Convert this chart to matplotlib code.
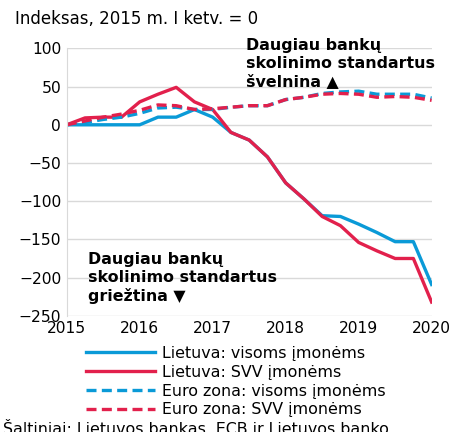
import matplotlib
matplotlib.use("Agg")
import matplotlib.pyplot as plt
import numpy as np

years = np.arange(21) * 0.25 + 2015
lt_all = [0, 0, 0, 0, 0, 10, 10, 20, 10, -10, -20, -42, -76, -97, -119, -120, -130, -141, -153, -153, -209]
lt_svv = [0, 9, 10, 10, 30, 40, 49, 30, 20, -10, -20, -42, -76, -97, -120, -132, -154, -165, -175, -175, -232]
ez_all = [0, 3, 7, 10, 15, 22, 23, 20, 20, 23, 25, 25, 33, 36, 41, 43, 44, 40, 40, 40, 35]
ez_svv = [0, 5, 10, 14, 19, 26, 25, 20, 21, 23, 25, 25, 33, 36, 40, 41, 40, 36, 37, 36, 32]
labels = ["Lietuva: visoms įmonėms", "Lietuva: SVV įmonėms",
          "Euro zona: visoms įmonėms", "Euro zona: SVV įmonėms"]
xticks = [2015, 2016, 2017, 2018, 2019, 2020]
yticks = [-250, -200, -150, -100, -50, 0, 50, 100]

blue = "#0a9ad7"
red = "#e2204c"
fs = 11.4
tfs = 11.2

fig = plt.figure(figsize=(4.51, 4.32), dpi=100)
ax = fig.add_axes([0.148, 0.269, 0.809, 0.619])
lw = 2.4
l1, = ax.plot(years, lt_all, color=blue, lw=lw, label=labels[0])
l2, = ax.plot(years, lt_svv, color=red, lw=lw, label=labels[1])
l3, = ax.plot(years, ez_all, color=blue, lw=lw, ls=(0, (3, 1.6)), label=labels[2])
l4, = ax.plot(years, ez_svv, color=red, lw=lw, ls=(0, (3, 1.6)), label=labels[3])

ax.set_xlim(2015, 2020)
ax.set_ylim(-250, 100)
ax.set_xticks(xticks)
ax.set_xticklabels([str(x) for x in xticks], fontsize=tfs)
ax.set_yticks(yticks)
ax.set_yticklabels([str(y).replace("-", "\u2212") for y in yticks], fontsize=tfs)
ax.tick_params(length=0, pad=4)
ax.yaxis.grid(True, color="#d9d9d9", lw=1)
ax.set_axisbelow(True)
for s in ["top", "right", "bottom"]:
    ax.spines[s].set_visible(False)
ax.spines["left"].set_color("#d9d9d9")

fig.text(0.033, 0.955, "Indeksas, 2015 m. I ketv. = 0", fontsize=12, va="center", ha="left")
ax.text(0.49, 1.04, "Daugiau bankų\nskolinimo standartus\nšvelnina \u25B2", transform=ax.transAxes,
        fontsize=fs, fontweight="bold", va="top", ha="left", linespacing=1.25)
ax.text(0.058, 0.24, "Daugiau bankų\nskolinimo standartus\ngriežtina \u25BC", transform=ax.transAxes,
        fontsize=fs, fontweight="bold", va="top", ha="left", linespacing=1.25)

fig.legend(handles=[l1, l2, l3, l4], loc="upper left", bbox_to_anchor=(0.19, 0.2),
           frameon=False, fontsize=fs, handlelength=4.4, handletextpad=0.45,
           labelspacing=0.25, borderpad=0, borderaxespad=0)
fig.text(0.007, 0.027, "Šaltiniai: Lietuvos bankas, ECB ir Lietuvos banko", fontsize=fs, va="top", ha="left")

fig.savefig("out.png", dpi=100)
